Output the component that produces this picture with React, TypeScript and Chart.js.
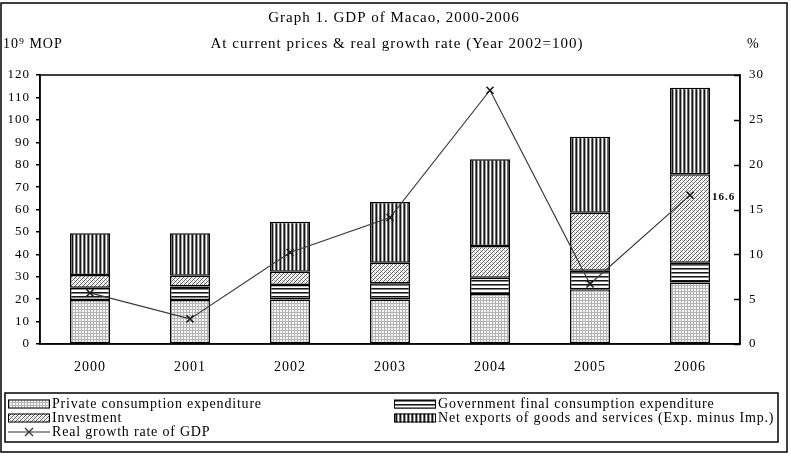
import React, { useEffect, useRef } from "react";
import { Chart, registerables } from "chart.js";

Chart.register(...registerables);

// ---- data -------------------------------------------------------------
const years = ["2000", "2001", "2002", "2003", "2004", "2005", "2006"];
// 10^9 MOP, at current prices
const privateConsumption = [19.6, 19.6, 19.9, 19.9, 22.3, 24.4, 27.4];
const governmentConsumption = [5.5, 6.0, 6.4, 7.2, 7.3, 8.3, 8.9];
const investment = [5.7, 4.9, 5.9, 9.2, 14.1, 25.9, 39.4];
const netExports = [18.6, 18.9, 22.3, 27.0, 38.7, 33.9, 38.6];
// real growth rate, %
const realGrowth = [5.7, 2.8, 10.2, 14.1, 28.3, 6.7, 16.6];
const labelledYearIndex = 6;

const seriesNames = [
  "Private consumption expenditure",
  "Government final consumption expenditure",
  "Investment",
  "Net exports of goods and services (Exp. minus Imp.)",
  "Real growth rate of GDP",
];
const titleLines = [
  "Graph 1. GDP of Macao, 2000-2006",
  "At current prices & real growth rate (Year 2002=100)",
];
const leftUnit = "10\u2079 MOP";
const rightUnit = "%";
const leftMax = 120;
const leftStep = 10;
const rightMax = 30;
const rightStep = 5;

const SERIF = '"Liberation Serif", "Times New Roman", serif';

// ---- fill patterns ------------------------------------------------------
function tilePattern(w: number, h: number, color: (x: number, y: number) => string) {
  const c = document.createElement("canvas");
  c.width = w;
  c.height = h;
  const g = c.getContext("2d")!;
  for (let y = 0; y < h; y++) {
    for (let x = 0; x < w; x++) {
      g.fillStyle = color(x, y);
      g.fillRect(x, y, 1, 1);
    }
  }
  return g.createPattern(c, "repeat")!;
}

function makePatterns() {
  const grid = tilePattern(3, 3, (x, y) => (x === 0 || y === 0 ? "#b4b4b4" : "#f6f6f6"));
  const hLines = ["#151515", "#808080", "#ffffff", "#ffffff"];
  const horizontal = tilePattern(1, 4, (_x, y) => hLines[y]);
  const diagonal = tilePattern(4, 4, (x, y) => {
    if ((x + y) % 4 === 0) return "#5a5a5a";
    if ((x + y) % 4 === 2 && x % 2 === 0) return "#b8b8b8";
    return "#ffffff";
  });
  const vLines = ["#151515", "#a0a0a0", "#ffffff", "#6a6a6a"];
  const vertical = tilePattern(4, 1, (x) => vLines[x]);
  return [grid, horizontal, diagonal, vertical];
}

// ---- custom drawing: titles, frame, legend, value label ------------------
const decorPlugin = {
  id: "decor",
  beforeDraw(chart: any) {
    const ctx = chart.ctx as CanvasRenderingContext2D;
    (ctx as any).letterSpacing = "1px";
    ctx.save();
    ctx.fillStyle = "#ffffff";
    ctx.fillRect(0, 0, chart.width, chart.height);
    ctx.restore();
  },
  beforeDatasetsDraw(chart: any) {
    const ctx = chart.ctx as CanvasRenderingContext2D;
    const a = chart.chartArea;
    ctx.save();
    ctx.strokeStyle = "#000";
    ctx.lineWidth = 1.5;
    ctx.strokeRect(a.left, a.top, a.right - a.left, a.bottom - a.top);
    // inward tick marks on the right-hand axis
    const y1 = chart.scales.y1;
    for (const t of y1.ticks) {
      const py = Math.round(y1.getPixelForValue(t.value)) + 0.5;
      ctx.beginPath();
      ctx.moveTo(a.right - 6, py);
      ctx.lineTo(a.right, py);
      ctx.stroke();
    }
    ctx.restore();
  },
  afterDraw(chart: any) {
    const ctx = chart.ctx as CanvasRenderingContext2D;
    ctx.save();
    ctx.fillStyle = "#000";
    ctx.textBaseline = "middle";

    // titles
    ctx.font = `15px ${SERIF}`;
    ctx.textAlign = "center";
    ctx.fillText(titleLines[0], 394, 18);
    ctx.fillText(titleLines[1], 397, 44);

    // axis units
    ctx.font = `14px ${SERIF}`;
    ctx.textAlign = "left";
    ctx.fillText(leftUnit, 3, 44);
    ctx.fillText(rightUnit, 747, 44);

    // value label on the growth line
    const meta = chart.getDatasetMeta(4);
    const pt = meta.data[labelledYearIndex];
    ctx.font = `bold 11px ${SERIF}`;
    ctx.fillText(String(realGrowth[labelledYearIndex]), pt.x + 22, pt.y + 2);

    // legend
    const box = { l: 5, t: 393, r: 778, b: 442 };
    ctx.lineWidth = 1.5;
    ctx.strokeStyle = "#000";
    ctx.strokeRect(box.l, box.t, box.r - box.l, box.b - box.t);
    const rows = [404, 418, 432];
    const cols = [8, 394];
    const swW = 42;
    const swH = 9;
    const items = [
      { ds: 0, col: 0, row: 0 },
      { ds: 1, col: 1, row: 0 },
      { ds: 2, col: 0, row: 1 },
      { ds: 3, col: 1, row: 1 },
    ];
    ctx.font = `14px ${SERIF}`;
    (ctx as any).letterSpacing = "0.8px";
    for (const it of items) {
      const x = cols[it.col];
      const y = rows[it.row];
      ctx.fillStyle = chart.data.datasets[it.ds].backgroundColor;
      ctx.fillRect(x, y - swH / 2, swW, swH);
      ctx.lineWidth = 1;
      ctx.strokeRect(x + 0.5, y - swH / 2 + 0.5, swW - 1, swH - 1);
      ctx.fillStyle = "#000";
      ctx.fillText(seriesNames[it.ds], x + swW + 2, y);
    }
    // line key
    {
      const x = cols[0];
      const y = rows[2];
      ctx.strokeStyle = "#333";
      ctx.lineWidth = 1.2;
      ctx.beginPath();
      ctx.moveTo(x, y);
      ctx.lineTo(x + swW, y);
      ctx.stroke();
      const cx = x + swW / 2;
      ctx.lineWidth = 1.3;
      ctx.beginPath();
      ctx.moveTo(cx - 4, y - 4);
      ctx.lineTo(cx + 4, y + 4);
      ctx.moveTo(cx + 4, y - 4);
      ctx.lineTo(cx - 4, y + 4);
      ctx.stroke();
      ctx.fillStyle = "#000";
      ctx.fillText(seriesNames[4], x + swW + 2, y);
    }
    (ctx as any).letterSpacing = "1px";

    // outer frame
    ctx.strokeStyle = "#000";
    ctx.lineWidth = 1.5;
    ctx.strokeRect(1, 3, 786, 449);
    ctx.restore();
  },
};

export default function App() {
  const ref = useRef<HTMLCanvasElement | null>(null);

  useEffect(() => {
    document.body.style.margin = "0";
    const canvas = ref.current!;
    const [pGrid, pH, pDiag, pV] = makePatterns();
    const barBase = {
      type: "bar" as const,
      stack: "gdp",
      yAxisID: "y",
      borderColor: "#000",
      borderWidth: 1.5,
      borderSkipped: false,
      order: 1,
    };
    const chart = new Chart(canvas, {
      type: "bar",
      data: {
        labels: years,
        datasets: [
          { ...barBase, label: seriesNames[0], data: privateConsumption, backgroundColor: pGrid },
          { ...barBase, label: seriesNames[1], data: governmentConsumption, backgroundColor: pH },
          { ...barBase, label: seriesNames[2], data: investment, backgroundColor: pDiag },
          { ...barBase, label: seriesNames[3], data: netExports, backgroundColor: pV },
          {
            type: "line",
            label: seriesNames[4],
            data: realGrowth,
            yAxisID: "y1",
            borderColor: "#3a3a3a",
            borderWidth: 1.2,
            pointStyle: "crossRot",
            pointRadius: 5,
            pointBorderColor: "#1a1a1a",
            pointBorderWidth: 1.5,
            backgroundColor: "transparent",
            fill: false,
            tension: 0,
            order: 0,
          } as any,
        ],
      },
      options: {
        responsive: false,
        animation: false,
        devicePixelRatio: 1,
        layout: { padding: { left: 0, right: 0, top: 75, bottom: 72 } },
        plugins: {
          legend: { display: false },
          title: { display: false },
          tooltip: { enabled: false },
        },
        datasets: { bar: { categoryPercentage: 1, barPercentage: 0.4 } },
        scales: {
          x: {
            stacked: true,
            grid: { display: false, drawTicks: false },
            border: { display: true, color: "#000", width: 1.5 },
            ticks: { color: "#000", font: { family: SERIF, size: 14 }, padding: 15 },
            afterFit: (s: any) => {
              s.height = 40;
            },
          },
          y: {
            stacked: true,
            position: "left",
            min: 0,
            max: leftMax,
            grid: { drawOnChartArea: false, drawTicks: true, tickLength: 4, color: "#000", lineWidth: 1.5 },
            border: { display: true, color: "#000", width: 1.5 },
            ticks: { stepSize: leftStep, color: "#000", font: { family: SERIF, size: 13 }, padding: 6 },
            afterFit: (s: any) => {
              s.width = 40;
            },
          },
          y1: {
            position: "right",
            min: 0,
            max: rightMax,
            grid: { drawOnChartArea: false, drawTicks: false },
            border: { display: true, color: "#000", width: 1.5 },
            ticks: { stepSize: rightStep, color: "#000", font: { family: SERIF, size: 13 }, padding: 9 },
            afterFit: (s: any) => {
              s.width = 51;
            },
          },
        },
      },
      plugins: [decorPlugin],
    });
    return () => chart.destroy();
  }, []);

  return (
    <div style={{ width: 791, height: 456 }}>
      <canvas ref={ref} width={791} height={456} />
    </div>
  );
}
